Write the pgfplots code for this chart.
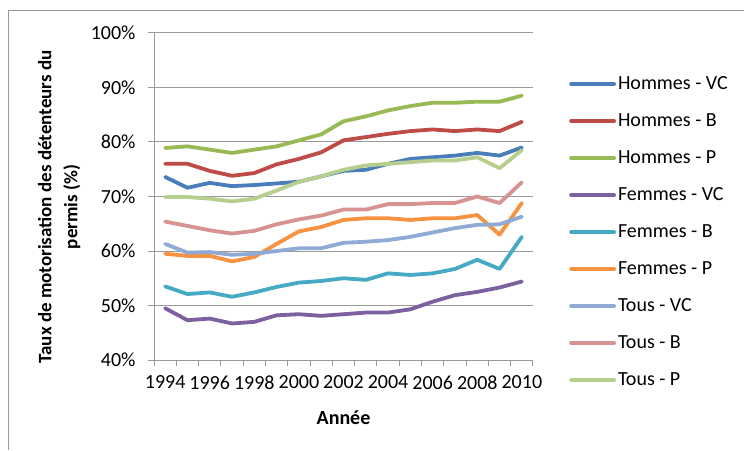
\documentclass[border=0pt]{standalone}
\usepackage{pgfplots}
\pgfplotsset{compat=1.18}
\usepackage{fontspec}
\setmainfont{Carlito}

\definecolor{hvc}{HTML}{4A7EBB}
\definecolor{hb}{HTML}{BE4B48}
\definecolor{hp}{HTML}{98B954}
\definecolor{fvc}{HTML}{7D60A0}
\definecolor{fb}{HTML}{46AAC5}
\definecolor{fp}{HTML}{F69240}
\definecolor{tvc}{HTML}{8EAAD5}
\definecolor{tb}{HTML}{D69391}
\definecolor{tp}{HTML}{B7CF8E}
\definecolor{gridc}{HTML}{9A9A9A}

\begin{document}
\begin{tikzpicture}
\useasboundingbox (0pt,0pt) rectangle (744pt,450pt);
\draw[gridc, line width=1pt] (8pt,0pt) -- (8pt,439pt) -- (744pt,439pt);

\begin{axis}[
    at={(154pt,90pt)}, anchor=south west,
    scale only axis, width=379pt, height=327pt,
    xmin=1993.5, xmax=2010.5,
    ymin=40, ymax=100,
    axis lines*=left,
    axis line style={gridc, line width=1pt},
    tick align=outside,
    major tick length=6pt,
    tick style={gridc, line width=1pt},
    xtick={1993.5,1994.5,...,2010.5},
    xticklabels={},
    extra x ticks={1994,1996,...,2010},
    extra x tick labels={1994,1996,1998,2000,2002,2004,2006,2008,2010},
    extra x tick style={tick style={draw=none}, xticklabel style={yshift=-6pt}},
    ytick={40,50,...,100},
    yticklabels={40\%,50\%,60\%,70\%,80\%,90\%,100\%},
    yticklabel style={xshift=-9pt},
    ymajorgrids,
    grid style={gridc, line width=1pt},
    ticklabel style={font=\fontsize{20}{24}\selectfont},
    xlabel={Année},
    xlabel style={font=\bfseries\fontsize{20}{24}\selectfont, at={(axis description cs:0.5,-0.177)}, anchor=center},
    ylabel={Taux de motorisation des détenteurs du\\permis (\%)},
    ylabel style={font=\bfseries\fontsize{19}{26}\selectfont, align=center, at={(axis description cs:-0.250,0.468)}, anchor=center},
    every axis plot/.append style={line width=3.8pt, line cap=round, line join=round, no markers},
    legend image code/.code={\draw[#1] (0pt,0pt) -- (43pt,0pt);},
    legend cell align=left,
    legend style={at={(axis description cs:1.095,0.878)}, anchor=north west, draw=none, fill=none, inner sep=0pt,
        font=\fontsize{20}{24}\selectfont,
        nodes={inner sep=2pt, text height=14pt, text depth=4pt},
        row sep=15pt},
]
\addplot[hvc] coordinates {(1994,73.6) (1995,71.6) (1996,72.5) (1997,71.9) (1998,72.1) (1999,72.4) (2000,72.7) (2001,73.7) (2002,74.7) (2003,74.9) (2004,76.0) (2005,76.9) (2006,77.2) (2007,77.5) (2008,78.0) (2009,77.5) (2010,79.0)};
\addplot[hb] coordinates {(1994,76.0) (1995,76.0) (1996,74.7) (1997,73.8) (1998,74.3) (1999,75.9) (2000,76.9) (2001,78.1) (2002,80.3) (2003,80.9) (2004,81.5) (2005,82.0) (2006,82.3) (2007,82.0) (2008,82.3) (2009,82.0) (2010,83.7)};
\addplot[hp] coordinates {(1994,78.9) (1995,79.2) (1996,78.6) (1997,78.0) (1998,78.6) (1999,79.2) (2000,80.3) (2001,81.4) (2002,83.8) (2003,84.7) (2004,85.8) (2005,86.6) (2006,87.2) (2007,87.2) (2008,87.4) (2009,87.4) (2010,88.5)};
\addplot[fvc] coordinates {(1994,49.5) (1995,47.3) (1996,47.6) (1997,46.7) (1998,47.0) (1999,48.2) (2000,48.4) (2001,48.1) (2002,48.4) (2003,48.7) (2004,48.7) (2005,49.3) (2006,50.7) (2007,51.9) (2008,52.5) (2009,53.3) (2010,54.4)};
\addplot[fb] coordinates {(1994,53.5) (1995,52.1) (1996,52.4) (1997,51.6) (1998,52.4) (1999,53.4) (2000,54.2) (2001,54.5) (2002,55.0) (2003,54.7) (2004,55.9) (2005,55.6) (2006,55.9) (2007,56.7) (2008,58.4) (2009,56.7) (2010,62.6)};
\addplot[fp] coordinates {(1994,59.5) (1995,59.1) (1996,59.1) (1997,58.1) (1998,58.9) (1999,61.3) (2000,63.6) (2001,64.4) (2002,65.7) (2003,66.0) (2004,66.0) (2005,65.7) (2006,66.0) (2007,66.0) (2008,66.6) (2009,63.0) (2010,68.8)};
\addplot[tvc] coordinates {(1994,61.3) (1995,59.7) (1996,59.8) (1997,59.3) (1998,59.5) (1999,60.0) (2000,60.5) (2001,60.5) (2002,61.5) (2003,61.7) (2004,62.0) (2005,62.6) (2006,63.4) (2007,64.2) (2008,64.8) (2009,64.9) (2010,66.3)};
\addplot[tb] coordinates {(1994,65.4) (1995,64.6) (1996,63.8) (1997,63.2) (1998,63.7) (1999,64.9) (2000,65.8) (2001,66.5) (2002,67.6) (2003,67.6) (2004,68.6) (2005,68.6) (2006,68.8) (2007,68.8) (2008,70.0) (2009,68.8) (2010,72.6)};
\addplot[tp] coordinates {(1994,69.9) (1995,69.9) (1996,69.6) (1997,69.1) (1998,69.6) (1999,71.1) (2000,72.7) (2001,73.7) (2002,74.9) (2003,75.7) (2004,76.0) (2005,76.3) (2006,76.6) (2007,76.6) (2008,77.2) (2009,75.2) (2010,78.5)};
\legend{Hommes - VC, Hommes - B, Hommes - P, Femmes - VC, Femmes - B, Femmes - P, Tous - VC, Tous - B, Tous - P}
\end{axis}
\end{tikzpicture}
\end{document}
